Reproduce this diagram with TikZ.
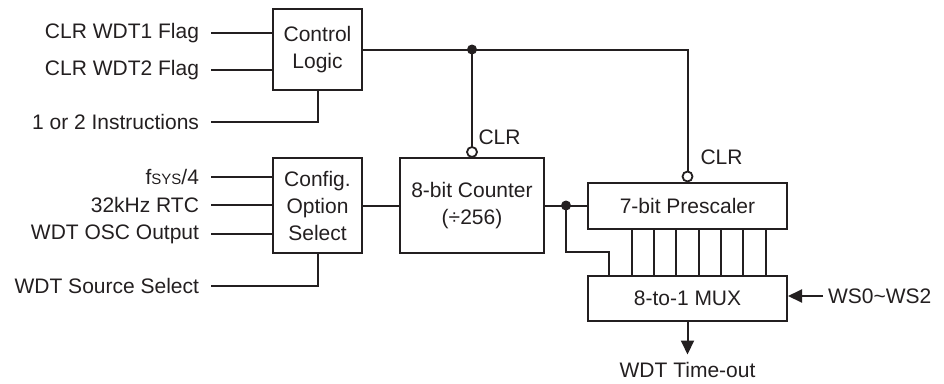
\documentclass[tikz,border=0pt]{standalone}
\usepackage{fontspec}
\setmainfont{Liberation Sans}
\usetikzlibrary{arrows.meta,positioning,calc}
\definecolor{wdtink}{HTML}{231F20}

\begin{document}
\begin{tikzpicture}[
        x=1pt, y=-1pt,
        line width=2pt,
        draw=wdtink,
        every node/.style={font=\fontsize{21}{27}\selectfont, text=wdtink},
        box/.style={
          draw=wdtink,
          line width=2pt,
          align=center,
          inner sep=0pt
        },
        lbl/.style={anchor=east, inner sep=0pt, outer sep=12pt},
        clrlbl/.style={inner sep=0pt},
        bubble/.style={circle, draw=wdtink, fill=white, line width=1.8pt, minimum size=10pt, inner sep=0pt, outer sep=0pt},
        dot/.style={circle, fill=wdtink, minimum size=10pt, inner sep=0pt},
        arrow/.style={-{Triangle[length=14pt, width=13pt]}, wdtink}
      ]

      \useasboundingbox (0,0) rectangle (944,383);

      \node[box, minimum width=89pt, minimum height=95pt] (cfg) at (317.5,205.5) {Config.\\Option\\Select};
      \node[box, minimum width=89pt, minimum height=81pt, above=66pt of cfg] (ctrl) {Control\\Logic};
      \node[box, minimum width=144pt, minimum height=95pt, right=36pt of cfg] (cnt) {8-bit Counter\\(÷256)};
      \node[box, minimum width=199pt, minimum height=46pt, right=42pt of cnt] (pre) {7-bit Prescaler};
      \node[box, minimum width=199pt, minimum height=45pt, below=45pt of pre] (mux) {8-to-1 MUX};

      \node[lbl] (i1) at (211,33) {CLR WDT1 Flag};
      \node[lbl] (i2) at (211,70) {CLR WDT2 Flag};
      \node[lbl] (i3) at (211,122) {1 or 2 Instructions};
      \node[lbl] (i4) at (211,177) {f{\fontsize{15}{15}\selectfont SYS}/4};
      \node[lbl] (i5) at (211,205) {32kHz RTC};
      \node[lbl] (i6) at (211,234) {WDT OSC Output};
      \node[lbl] (i7) at (211,286) {WDT Source Select};

      \draw (i1) -- (i1 -| ctrl.west);
      \draw (i2) -- (i2 -| ctrl.west);
      \draw (i3) -| (ctrl.south);
      \draw (i4) -- (i4 -| cfg.west);
      \draw (i5) -- (i5 -| cfg.west);
      \draw (i6) -- (i6 -| cfg.west);
      \draw (i7) -| (cfg.south);

      \node[bubble, above=0pt of cnt.north] (clr1) {};
      \node[bubble, above=0pt of pre.north] (clr2) {};
      \node[clrlbl, above right=3pt and 2pt of clr1.north east] (c1) {CLR};
      \node[clrlbl, above right=7pt and 8.5pt of clr2.north east] (c2) {CLR};

      \draw (ctrl.east) -| (clr2.north);
      \node[dot] (jn) at (ctrl.east -| clr1.north) {};
      \draw (jn.center) -- (clr1.north);

      \draw (cfg.east) -- (cnt.west);
      \draw (cnt.east) -- (pre.west);
      \node[dot] (tap) at ($(cnt.east)!0.5!(pre.west)$) {};

      \foreach \k in {1,...,8}
        \coordinate (p\k) at ($(pre.south west)!\k/9!(pre.south east)$);
      \foreach \k in {2,...,8}
        \draw (p\k) -- (p\k |- mux.north);
      \coordinate (bend) at ($(pre.south)!0.5!(mux.north)$);
      \draw (tap.center) |- (bend -| p1) -- (p1 |- mux.north);

      \node[anchor=west, inner sep=0pt, outer sep=5pt] (ws) at (823,296) {WS0\textasciitilde WS2};
      \draw[arrow] (ws.west) -- (ws.west -| mux.east);

      \node[below=40pt of mux.south, inner sep=0pt] (out) {WDT Time-out};
      \draw[arrow] (mux.south) -- ([yshift=7pt]out.north);

      \end{tikzpicture}
\end{document}
